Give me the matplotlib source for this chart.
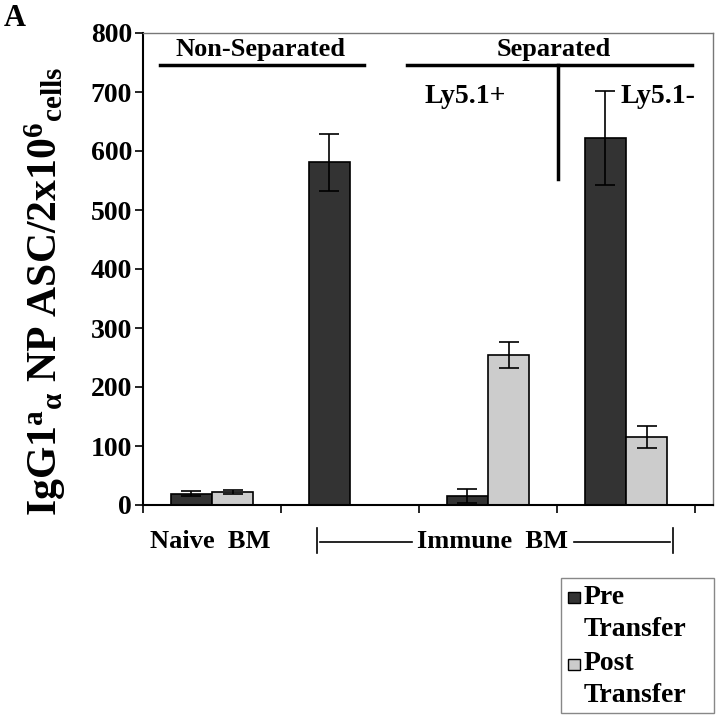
import numpy as np
import matplotlib
matplotlib.use('Agg')
from matplotlib import pyplot as plt
from matplotlib.lines import Line2D
from matplotlib.patches import Rectangle
import matplotlib.transforms as mtransforms

plt.rcParams['font.family'] = 'Liberation Serif'
plt.rcParams['font.weight'] = 'bold'
plt.rcParams['mathtext.fontset'] = 'custom'
plt.rcParams['mathtext.rm'] = 'Liberation Serif:bold'
plt.rcParams['mathtext.it'] = 'Liberation Serif:bold'
plt.rcParams['mathtext.bf'] = 'Liberation Serif:bold'

# data
groups = ['Naive BM', 'Immune non-separated', 'Immune Ly5.1+', 'Immune Ly5.1-']
pre = [19, 581, 15, 622]
pre_err = [4, 48, 12, 79]
post = [22, np.nan, 254, 115]
post_err = [3, np.nan, 22, 19]
yticks = [0, 100, 200, 300, 400, 500, 600, 700, 800]

dark = '#333333'
light = '#cccccc'

fig = plt.figure(figsize=(7.2, 7.15), dpi=100)
ax = fig.add_axes([143/720, 1-505/715, 570/720, 472/715])

x = np.arange(len(groups)) + 0.5
w = 0.3
# non-separated immune BM only has the pre bar, sitting left of centre
ax.bar(x - w/2, pre, w, color=dark, edgecolor='black', linewidth=1.2, zorder=2)
ax.bar(x + w/2, post, w, color=light, edgecolor='black', linewidth=1.2, zorder=2)
ax.errorbar(x - w/2, pre, yerr=pre_err, fmt='none', ecolor='black',
            elinewidth=1.2, capsize=7, capthick=1.2, zorder=3)
ax.errorbar(x + w/2, post, yerr=post_err, fmt='none', ecolor='black',
            elinewidth=1.2, capsize=7, capthick=1.2, zorder=3)

ax.set_xlim(0, 570/138)
ax.set_ylim(0, 800)
ax.set_yticks(yticks)
ax.set_xticks(np.arange(5))
ax.set_xticklabels([])
ax.tick_params(axis='y', labelsize=20, length=6, width=1.2, pad=2)
ax.tick_params(axis='x', length=6, width=1.2)
for lab in ax.get_yticklabels():
    lab.set_fontweight('bold')
for s in ['left', 'bottom']:
    ax.spines[s].set_linewidth(1.5)
for s in ['top', 'right']:
    ax.spines[s].set_color('#777777')
    ax.spines[s].set_linewidth(1)

fig.text(45/720, 1-292/715,
         r'IgG1$^{\rm a}$$_{\rm \alpha}$ NP ASC/2x10$^{\rm 6}$$_{\rm cells}$',
         rotation=90, ha='center', va='center', fontsize=30, fontweight='bold')

# group annotations at the top
ax.plot([0.12, 1.6], [745, 745], color='black', lw=2.5, zorder=1)
ax.plot([1.91, 3.98], [745, 745], color='black', lw=2.5, zorder=1)
ax.plot([3.01, 3.01], [745, 552], color='black', lw=2.5, zorder=1)
ax.text(0.85, 772, 'Non-Separated', ha='center', va='center', fontsize=19, fontweight='bold')
ax.text(2.98, 772, 'Separated', ha='center', va='center', fontsize=19, fontweight='bold')
ax.text(2.04, 693, 'Ly5.1+', ha='left', va='center', fontsize=20, fontweight='bold')
ax.text(3.46, 693, 'Ly5.1-', ha='left', va='center', fontsize=20, fontweight='bold')

# labels under the axis
trans = mtransforms.blended_transform_factory(ax.transData, ax.transAxes)
yl = -(541 - 505) / 472
ax.text(0.49, yl, 'Naive  BM', transform=trans, ha='center', va='center',
        fontsize=19, fontweight='bold')
ax.text(2.53, yl, 'Immune  BM', transform=trans, ha='center', va='center',
        fontsize=19, fontweight='bold')
yb0 = -(528 - 505) / 472
yb1 = -(553 - 505) / 472
ym = -(542 - 505) / 472
for xs, ys in [([1.26, 1.26], [yb0, yb1]), ([3.84, 3.84], [yb0, yb1]),
               ([1.28, 1.95], [ym, ym]), ([3.12, 3.82], [ym, ym])]:
    ax.add_line(Line2D(xs, ys, transform=trans, color='black', lw=1.2, clip_on=False))

# legend drawn by hand so the swatch sits beside the first line
fig.patches.append(Rectangle((561/720, 1-713/715), 153/720, 135/715,
                             transform=fig.transFigure, facecolor='white',
                             edgecolor='#888888', lw=1))
fig.patches.append(Rectangle((568/720, 1-603/715), 12/720, 11/715,
                             transform=fig.transFigure, facecolor=dark,
                             edgecolor='black', lw=1))
fig.patches.append(Rectangle((568/720, 1-670/715), 12/720, 11/715,
                             transform=fig.transFigure, facecolor=light,
                             edgecolor='black', lw=1))
fig.text(584/720, 1-598/715, 'Pre', ha='left', va='center', fontsize=20, fontweight='bold')
fig.text(584/720, 1-630/715, 'Transfer', ha='left', va='center', fontsize=20, fontweight='bold')
fig.text(584/720, 1-664/715, 'Post', ha='left', va='center', fontsize=20, fontweight='bold')
fig.text(584/720, 1-695/715, 'Transfer', ha='left', va='center', fontsize=20, fontweight='bold')

fig.text(4/720, 1-18/715, 'A', ha='left', va='center', fontsize=22, fontweight='bold')

fig.savefig('out.png', dpi=100)
